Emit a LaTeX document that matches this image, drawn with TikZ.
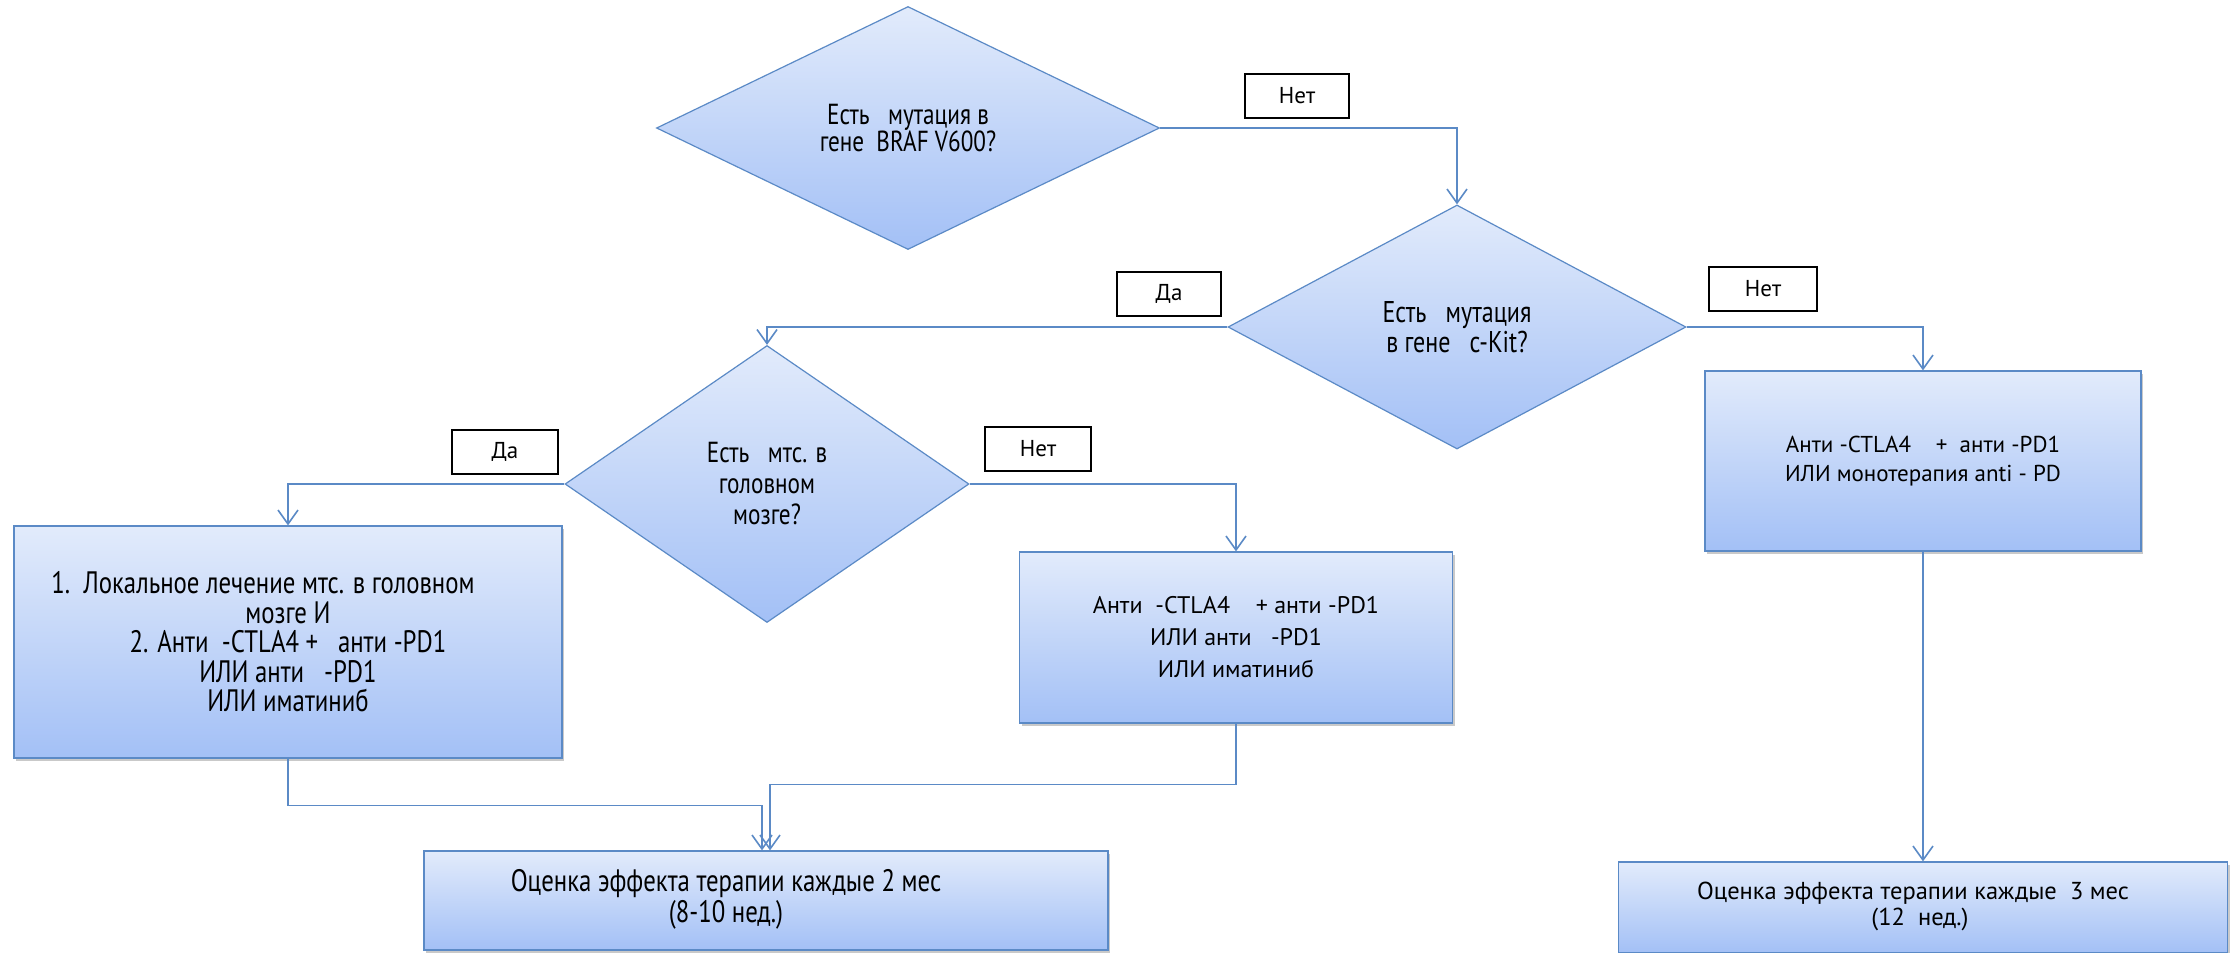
\documentclass[tikz,border=0pt]{standalone}
\usepackage{fontspec}
\setmainfont{PT Sans}
\newfontfamily\condfont[FakeStretch=0.8]{PT Sans}
\usetikzlibrary{shapes.geometric,arrows.meta,shadows,calc}
\definecolor{edgeblue}{HTML}{5B8AC6}
\definecolor{toplight}{HTML}{E2EBFB}
\definecolor{botblue}{HTML}{A3C0F6}
\begin{document}
\begin{tikzpicture}[x=1pt,y=-1pt,
  decision/.style={diamond, draw=edgeblue, line width=1.2pt, top color=toplight, bottom color=botblue, inner sep=0pt, align=center, text=black},
  procbox/.style={rectangle, draw=edgeblue, line width=1.2pt, top color=toplight, bottom color=botblue, align=center, inner sep=0pt,
     drop shadow={shadow xshift=2pt, shadow yshift=-3pt, opacity=0.35, fill=black!60}},
  lbl/.style={rectangle, draw=black, line width=1.2pt, fill=white, minimum width=104pt, minimum height=44pt, inner sep=0pt, font=\fontsize{23}{27}\selectfont},
  conn/.style={draw=edgeblue, line width=1.6pt, -{Straight Barb[length=14pt,width=20pt]}},
  condtxt/.style={font=\condfont\fontsize{29}{30}\selectfont},
  regtxt/.style={font=\fontsize{24}{32}\selectfont}
]
\useasboundingbox (0,0) rectangle (2231,953);
\fill[white] (0,0) rectangle (2231,953);

% decisions
\node[decision, font=\condfont\fontsize{29}{27}\selectfont, minimum width=503pt, minimum height=243pt] (d1) at (908,128)
  {Есть\ \ \ мутация в\\гене\ \ BRAF V600?};
\node[decision, font=\condfont\fontsize{30}{30}\selectfont, minimum width=458pt, minimum height=244pt] (d2) at (1457,327)
  {Есть\ \ \ мутация\\в гене\ \ \ c-Kit?};
\node[decision, font=\condfont\fontsize{29}{31}\selectfont, minimum width=404pt, minimum height=277pt] (d3) at (767,484)
  {Есть\ \ \ мтс. в\\головном\\мозге?};

% process boxes
\node[procbox, font=\condfont\fontsize{31}{29.5}\selectfont, minimum width=548pt, minimum height=232pt] (boxL) at (288,642)
  {1.\ \ Локальное лечение мтс. в головном\hspace*{50pt}\\мозге И\\2. Анти\ \ -CTLA4 +\ \ \ анти -PD1\\ИЛИ анти\ \ \ -PD1\\ИЛИ иматиниб};
\node[procbox, regtxt, minimum width=433pt, minimum height=171pt] (boxM) at (1236,637.5)
  {Анти\ \ -CTLA4\ \ \ \ + анти -PD1\\ИЛИ анти\ \ \ -PD1\\ИЛИ иматиниб};
\node[procbox, font=\fontsize{23}{29}\selectfont, minimum width=436pt, minimum height=180pt] (boxR) at (1923,461)
  {Анти -CTLA4\ \ \ \ +\ \ анти -PD1\\ИЛИ монотерапия\ anti - PD};
\node[procbox, font=\condfont\fontsize{31}{29}\selectfont, minimum width=684pt, minimum height=99pt] (botL) at (766,900.5)
  {\begin{tabular}{@{}c@{}}Оценка эффекта терапии каждые 2 мес\\(8-10 нед.)\end{tabular}\hspace*{80pt}};
\node[procbox, font=\fontsize{24.5}{26}\selectfont, minimum width=609pt, minimum height=91pt] (botR) at (1923,907.5)
  {\begin{tabular}{@{}c@{}}Оценка эффекта терапии каждые\ \ 3 мес\\\hspace*{14pt}(12\ \ нед.)\end{tabular}\hspace*{20pt}};

% labels
\node[lbl] (l1) at (1297,96) {Нет};
\node[lbl] (l2) at (1169,294) {Да};
\node[lbl, minimum width=108pt] (l3) at (1763,289) {Нет};
\node[lbl, minimum width=106pt] (l4) at (505,452) {Да};
\node[lbl, minimum width=106pt] (l5) at (1038,449) {Нет};

% connectors
\draw[conn] (d1.east) -| (d2.north);
\draw[conn] (d2.west) -| (d3.north);
\draw[conn] (d2.east) -| (boxR.north);
\draw[conn] (d3.west) -| (boxL.north);
\draw[conn] (d3.east) -| (boxM.north);
\draw[conn] (boxL.south) -- ++(0,47) -| ([xshift=-4pt]botL.north);
\draw[conn] (boxM.south) -- ++(0,61) -| ([xshift=4pt]botL.north);
\draw[conn] (boxR.south) -- (botR.north);
\end{tikzpicture}
\end{document}
